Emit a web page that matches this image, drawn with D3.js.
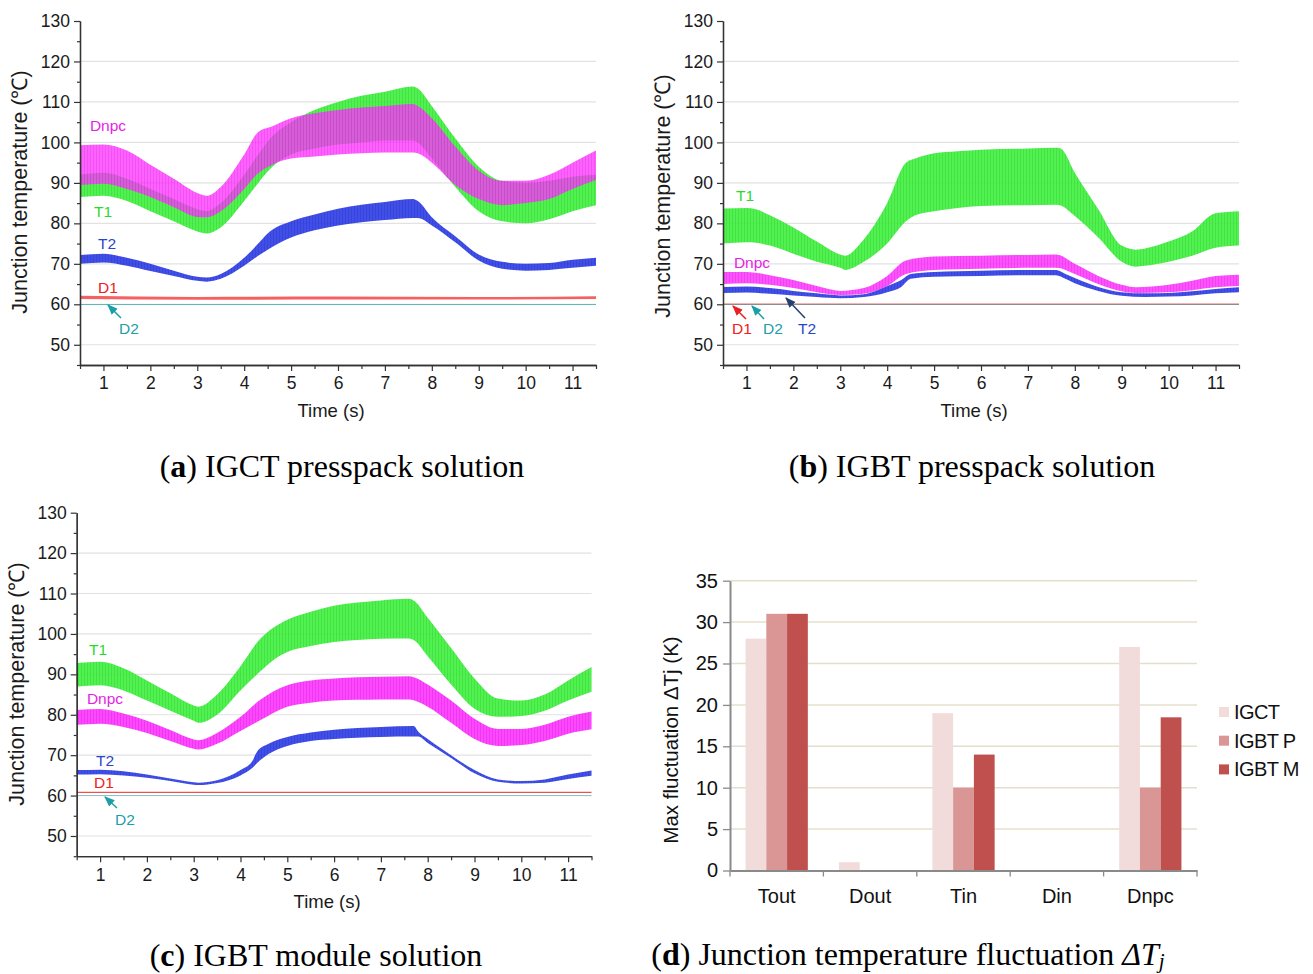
<!DOCTYPE html>
<html><head><meta charset="utf-8">
<script src="https://cdn.jsdelivr.net/npm/d3@7/dist/d3.min.js"></script>
<style>
body{margin:0;background:#fff;}
svg text{font-family:"Liberation Sans",Arial,sans-serif;}
.cap{font-family:"Liberation Serif","Times New Roman",serif;}
</style></head>
<body><svg id="chart" width="1313" height="974"></svg>
<script>
// ---------- DATA ----------
// x ticks & y ticks for the three time-domain panels
const timeTicks = [1,2,3,4,5,6,7,8,9,10,11];
const tempTicks = [50,60,70,80,90,100,110,120,130];

// each row: [time (s), lower (°C), upper (°C)]
// (a) IGCT presspack
const a_T1 = [[0.5,86.5,92],[1,86.8,92.5],[1.5,85.5,91],[2,83,88.5],[2.5,80.5,86],[3,78,83.5],[3.2,77.5,83],[3.5,79,85],[4,85.5,92],[4.3,90,97],[4.6,94,101.5],[5,97,105],[5.5,98.5,108],[6,99.5,110],[6.5,100,111.5],[7,100.5,112.5],[7.6,100.5,113.8],[7.7,100,113.3],[8,96,109],[8.5,89,101],[9,83,94],[9.5,80.5,90.5],[10,80,90],[10.5,81,90.5],[11,83,91.5],[11.5,84.5,92]];
const a_Dnpc = [[0.5,89.5,99.3],[1,89.8,99.5],[1.5,88.5,98],[2,86.5,94.5],[2.5,84,91],[3,81.6,87.5],[3.2,81.5,86.8],[3.5,83,89],[4,88.5,97],[4.3,92.4,102.6],[4.6,94.5,104],[5,96,106],[5.5,96.5,107.2],[6,97,108],[6.5,97.3,108.6],[7,97.5,109],[7.6,97.5,109.5],[7.7,97.3,109],[8,95,106],[8.5,89.5,99],[9,86,93],[9.5,84.5,90.5],[10,85,90.5],[10.5,86,92],[11,88.5,95],[11.5,90.7,98]];
const a_T2 = [[0.5,70,72.2],[1,70.3,72.5],[1.5,69.5,71.5],[2,68.2,70],[2.5,67,68.3],[3,65.8,66.8],[3.2,65.6,66.6],[3.5,66.3,67.5],[4,69.5,71.5],[4.3,72,75],[4.5,73.5,77.5],[5,76.5,80.5],[5.5,78.3,82.2],[6,79.5,83.6],[6.5,80.3,84.6],[7,80.8,85.3],[7.6,81.3,86],[7.7,81.3,85.5],[8,79.5,81.5],[8.5,75.3,76.8],[9,70.8,72.3],[9.5,68.8,70.5],[10,68.3,70],[10.5,68.5,70.2],[11,69,71],[11.5,69.5,71.5]];
const a_D1 = [[0.5,61.3,62.1],[3,61.1,61.8],[6,61.2,61.9],[9,61.2,61.8],[11.5,61.3,62]];
const a_D2 = [[0.5,59.9,60.1],[11.5,59.9,60.1]];

// (b) IGBT presspack
const b_T1 = [[0.5,75,83.7],[1,75.3,83.8],[1.2,75.2,83.5],[1.5,74.5,82],[2,72.5,79],[2.5,70.5,75.5],[3,69,72.3],[3.1,68.5,72],[3.5,70.5,76],[4,75,85],[4.4,80.5,95],[4.6,82,96],[5,83,97.3],[5.5,83.8,97.8],[6,84.3,98.2],[7,84.5,98.5],[7.6,84.6,98.7],[7.7,84.4,98.5],[8,81.8,92.5],[8.5,76.5,83.5],[9,70.5,74.5],[9.3,69.3,73.5],[9.5,69.5,73.8],[10,70.5,75.5],[10.5,72,78],[11,74,82.5],[11.5,74.5,83]];
const b_Dnpc = [[0.5,65,68],[1,65.2,68],[1.5,64.8,67.2],[2,64,66],[2.5,63,64.5],[3,62.3,63.3],[3.5,62.6,64],[4,64.5,67],[4.4,67.5,70.8],[5,68.5,71.8],[6,68.8,72],[7,69,72.2],[7.6,69,72.3],[8,67.5,70],[8.5,65,67],[9,63.2,64.8],[9.3,62.8,64.2],[10,63,64.8],[10.5,63.5,65.8],[11,64.2,67],[11.5,64.5,67.3]];
const b_T2 = [[0.5,62.8,64.3],[1,62.9,64.4],[1.5,62.6,64],[2,62.2,63.3],[2.5,61.8,62.7],[3,61.5,62.2],[3.5,61.8,62.5],[4,63,64.5],[4.3,64.3,66],[4.5,66.3,67.5],[5,66.8,68],[6,67,68.3],[7,67.2,68.5],[7.6,67.2,68.5],[7.8,66.3,67.5],[8,65.2,66.5],[8.5,63.3,64.3],[9,62.1,63],[9.5,61.8,62.7],[10,61.9,62.8],[10.5,62.2,63.2],[11,62.7,63.8],[11.5,63,64.2]];
const b_D1 = [[0.5,59.95,60.2],[11.5,59.95,60.2]];
const b_D2 = [[0.5,59.9,60.05],[11.5,59.9,60.05]];

// (c) IGBT module
const c_T1 = [[0.5,87,92.8],[1,87.3,93.1],[1.5,86,91.5],[2,83.5,88.5],[2.5,81,85.3],[3,78.5,82.3],[3.1,78,82],[3.5,80,85],[4,86,92],[4.4,90.5,98.5],[4.7,93.5,101.5],[5,95.5,103.5],[5.5,97,105.5],[6,98,107],[6.5,98.5,107.8],[7,98.8,108.3],[7.6,98.9,108.7],[7.7,98.5,108.3],[8,94.5,104],[8.5,87.5,96.5],[9,81.5,89],[9.5,79.5,84],[10,79.7,83.5],[10.5,81,85],[11,83.5,88.5],[11.5,85.7,91.8]];
const c_Dnpc = [[0.5,77.5,81.2],[1,77.8,81.4],[1.5,77,80.3],[2,75.5,78.5],[2.5,73.5,76.2],[3,71.6,73.9],[3.1,71.4,73.7],[3.5,72.8,75.5],[4,76,79.5],[4.4,78.5,83.5],[5,82,87.3],[5.5,83,88.5],[6,83.5,89],[6.5,83.7,89.3],[7,83.8,89.4],[7.6,83.8,89.5],[7.7,83.6,89.3],[8,82,87.5],[8.5,78,83.5],[9,74,79],[9.5,72.3,76.5],[10,72.5,76.5],[10.5,73.5,77.5],[11,75.3,79.5],[11.5,76.4,80.8]];
const c_T2 = [[0.5,65.2,66.3],[1,65.3,66.4],[1.5,65,66],[2,64.4,65.2],[2.5,63.6,64.2],[3,62.7,63.3],[3.1,62.6,63.2],[3.5,63.1,63.8],[4,65,66.3],[4.25,66.8,68.5],[4.35,68,70.8],[4.6,70.3,72.8],[5,72.3,74.5],[5.5,73.5,75.6],[6,74,76.3],[6.5,74.3,76.7],[7,74.5,77],[7.7,74.6,77.2],[7.8,74.6,75.8],[8,73,74],[8.5,69.3,70],[9,65.5,66.3],[9.5,63.4,64],[10,63,63.6],[10.5,63.2,64],[11,64.1,65.2],[11.5,64.9,66.2]];
const c_D1 = [[0.5,60.65,60.95],[11.5,60.65,60.95]];
const c_D2 = [[0.5,59.93,60.07],[11.5,59.93,60.07]];

// (d) bar chart
const barCategories = ["Tout","Dout","Tin","Din","Dnpc"];
const barSeries = ["IGCT","IGBT P","IGBT M"];
const valIGCT  = [28,1,19,0,27];
const valIGBTP = [31,0,10,0,10];
const valIGBTM = [31,0,14,0,18.5];
const barTicks = [0,5,10,15,20,25,30,35];

// ---------- STYLE ----------
const COL = {T1:"#3DF03D", Dnpc:"#FF33FF", T2:"#2B3BE6", D1:"#F23A3A", D2:"#1FA3AA"};
const DARK = {T1:"#22C822", Dnpc:"#D010D8", T2:"#1624B8", D1:"#D01818", D2:"#158088"};
const TXT = {T1:"#2BD92B", Dnpc:"#E61EE6", T2:"#2A45C8", D1:"#EE2020", D2:"#1AA0A8"};
const barColors = ["#F2DCDB","#D99694","#C0504D"];

const svg = d3.select("#chart");
const defs = svg.append("defs");
Object.keys(COL).forEach(k=>{
  const p = defs.append("pattern").attr("id","pat"+k).attr("patternUnits","userSpaceOnUse")
    .attr("width",3).attr("height",6);
  p.append("rect").attr("width",3).attr("height",6).attr("fill",COL[k]);
  p.append("rect").attr("x",0).attr("width",1).attr("height",6).attr("fill",DARK[k]).attr("opacity",0.45);
});
const ARC = {red:"#E82020",teal:"#1A9FA8",navy:"#24406E"};
Object.keys(ARC).forEach(c=>{
  defs.append("marker").attr("id","arr"+c).attr("viewBox","0 0 10 10").attr("refX",9).attr("refY",5)
    .attr("markerWidth",7).attr("markerHeight",7).attr("orient","auto-start-reverse")
    .append("path").attr("d","M0,1 L10,5 L0,9 Z").attr("fill",ARC[c]);
});

function linePanel(cfg){
  const x = d3.scaleLinear().domain([0.5,11.5]).range([cfg.x0,cfg.x1]);
  const y = d3.scaleLinear().domain([45,130]).range([cfg.yB,cfg.yT]);
  const g = svg.append("g");
  // grid
  g.append("g").selectAll("line").data(tempTicks.filter(v=>v<130)).join("line")
    .attr("x1",cfg.x0).attr("x2",cfg.x1).attr("y1",d=>y(d)).attr("y2",d=>y(d))
    .attr("stroke","#E2E2E2").attr("stroke-width",1.2);
  // series
  const area = d3.area().x(d=>x(d[0])).y0(d=>y(d[1])).y1(d=>y(d[2])).curve(d3.curveMonotoneX);
  cfg.series.forEach(s=>{
    g.append("path").datum(s.data).attr("d",area)
      .attr("fill", s.plain ? COL[s.key] : "url(#pat"+s.key+")")
      .attr("opacity", s.op || 0.9);
  });
  // axes
  g.append("g").attr("transform",`translate(${cfg.x0},0)`)
    .call(d3.axisLeft(y).tickValues(tempTicks).tickSize(6).tickPadding(4).tickSizeOuter(0));
  g.append("g").attr("transform",`translate(${cfg.x0},0)`)
    .call(d3.axisLeft(y).tickValues(d3.range(45,130,10)).tickSize(3).tickFormat("").tickSizeOuter(0));
  g.append("g").attr("transform",`translate(0,${cfg.yB})`)
    .call(d3.axisBottom(x).tickValues(timeTicks).tickSize(6).tickPadding(6).tickSizeOuter(0));
  g.append("g").attr("transform",`translate(0,${cfg.yB})`)
    .call(d3.axisBottom(x).tickValues(d3.range(0.5,11.6,1)).tickSize(4).tickFormat("").tickSizeOuter(0));
  g.selectAll(".domain").attr("stroke","#333").attr("stroke-width",1.3);
  g.selectAll(".tick line").attr("stroke","#333").attr("stroke-width",1.2);
  g.selectAll(".tick text").attr("font-size",17.5).attr("fill","#1a1a1a");
  // titles
  g.append("text").attr("transform",`translate(${cfg.ytx},${cfg.yty}) rotate(-90)`)
    .attr("text-anchor","middle").attr("font-size",21.5).attr("fill","#1a1a1a")
    .text("Junction temperature (℃)");
  g.append("text").attr("x",(cfg.x0+cfg.x1)/2-7).attr("y",cfg.yB+52)
    .attr("text-anchor","middle").attr("font-size",18.5).attr("fill","#1a1a1a").text("Time (s)");
  // labels
  cfg.labels.forEach(l=>{
    g.append("text").attr("x",l[1]).attr("y",l[2]).attr("text-anchor","middle")
      .attr("font-size",15.5).attr("fill",TXT[l[0]]).text(l[0]);
  });
  cfg.arrows.forEach(a=>{
    g.append("line").attr("x1",a[1]).attr("y1",a[2]).attr("x2",a[3]).attr("y2",a[4])
      .attr("stroke",ARC[a[0]]).attr("stroke-width",1.5)
      .attr("marker-end","url(#arr"+a[0]+")");
  });
}

linePanel({x0:80,x1:596,yT:21,yB:365,ytx:27,yty:192,
  series:[{key:"D2",data:a_D2,plain:true},{key:"D1",data:a_D1,plain:true,op:0.8},
          {key:"T2",data:a_T2},{key:"T1",data:a_T1},{key:"Dnpc",data:a_Dnpc,op:0.78}],
  labels:[["Dnpc",108,131],["T1",103,217],["T2",107,249],["D1",108,293],["D2",129,334]],
  arrows:[["teal",121,318,108,305]]});

linePanel({x0:723,x1:1239,yT:21,yB:365,ytx:670,yty:196,
  series:[{key:"D2",data:b_D2,plain:true},{key:"D1",data:b_D1,plain:true,op:0.7},
          {key:"T1",data:b_T1},{key:"T2",data:b_T2},{key:"Dnpc",data:b_Dnpc,op:0.85}],
  labels:[["T1",745,201],["Dnpc",752,268],["D1",742,334],["D2",773,334],["T2",807,334]],
  arrows:[["red",746,319,733,306],["teal",764,319,752,306],["navy",805,318,786,298]]});

linePanel({x0:76.7,x1:591.5,yT:512.7,yB:856.2,ytx:24,yty:684,
  series:[{key:"D2",data:c_D2,plain:true},{key:"D1",data:c_D1,plain:true},
          {key:"T2",data:c_T2},{key:"Dnpc",data:c_Dnpc},{key:"T1",data:c_T1}],
  labels:[["T1",98,655],["Dnpc",105,704],["T2",105,766],["D1",104,788],["D2",125,825]],
  arrows:[["teal",117,808,105,797]]});

// ---------- BAR CHART ----------
(function(){
  const x0 = d3.scaleBand().domain(barCategories).range([730,1197]);
  const bw = x0.bandwidth();
  const x1 = d3.scaleBand().domain(barSeries).range([bw/6, bw*5/6]);
  const y = d3.scaleLinear().domain([0,35]).range([870.5,580.7]);
  const g = svg.append("g");
  g.append("g").selectAll("line").data(barTicks.filter(v=>v>0)).join("line")
    .attr("x1",730).attr("x2",1197).attr("y1",d=>y(d)).attr("y2",d=>y(d))
    .attr("stroke","#E4DFCC").attr("stroke-width",1.5);
  const vals = [valIGCT,valIGBTP,valIGBTM];
  barSeries.forEach((s,si)=>{
    g.append("g").selectAll("rect").data(barCategories.map((c,i)=>({c,v:vals[si][i]})).filter(d=>d.v>0)).join("rect")
      .attr("x",d=>x0(d.c)+x1(s)).attr("width",x1.bandwidth())
      .attr("y",d=>y(d.v)).attr("height",d=>y(0)-y(d.v)).attr("fill",barColors[si]);
  });
  g.append("g").attr("transform","translate(730,0)")
    .call(d3.axisLeft(y).tickValues(barTicks).tickSize(7).tickPadding(5).tickSizeOuter(0));
  const xa = g.append("g").attr("transform",`translate(0,${y(0)})`)
    .call(d3.axisBottom(x0).tickSize(0).tickPadding(18).tickSizeOuter(0));
  g.append("g").selectAll("line").data(barCategories.concat(["_end"])).join("line")
    .attr("x1",(d,i)=>730+i*bw).attr("x2",(d,i)=>730+i*bw).attr("y1",y(0)).attr("y2",y(0)+6)
    .attr("stroke","#8A8A8A").attr("stroke-width",1.3);
  g.selectAll(".domain").attr("stroke","#8A8A8A").attr("stroke-width",2);
  g.selectAll(".tick line").attr("stroke","#8A8A8A").attr("stroke-width",1.3);
  g.selectAll(".tick text").attr("font-size",20).attr("fill","#111");
  xa.selectAll(".tick text").attr("font-size",20);
  g.append("text").attr("transform","translate(678,740) rotate(-90)").attr("text-anchor","middle")
    .attr("font-size",20.5).attr("fill","#111").text("Max fluctuation ΔTj (K)");
  const lg = g.append("g");
  barSeries.forEach((s,i)=>{
    const yy = 712 + i*28.7;
    lg.append("rect").attr("x",1219).attr("y",yy-5).attr("width",10).attr("height",10).attr("fill",barColors[i]);
    lg.append("text").attr("x",1234).attr("y",yy+7).attr("font-size",20).attr("fill","#111")
      .attr("letter-spacing","-0.6").text(s);
  });
})();

// ---------- CAPTIONS ----------
function caption(cx, yb, letter, parts){
  const t = svg.append("text").attr("class","cap").attr("x",cx).attr("y",yb)
    .attr("text-anchor","middle").attr("font-size",32).attr("fill","#000");
  t.append("tspan").text("(");
  t.append("tspan").attr("font-weight","bold").text(letter);
  t.append("tspan").text(")");
  parts.forEach(p=>{
    const s = t.append("tspan").text(p.t);
    if(p.i) s.attr("font-style","italic");
    if(p.sub) s.attr("font-size",21).attr("dy",3);
  });
}
caption(342,477,"a",[{t:" IGCT presspack solution"}]);
caption(972,477,"b",[{t:" IGBT presspack solution"}]);
caption(316,966,"c",[{t:" IGBT module solution"}]);
caption(908,965,"d",[{t:" Junction temperature fluctuation "},{t:"ΔT",i:true},{t:"j",i:true,sub:true}]);
</script></body></html>
